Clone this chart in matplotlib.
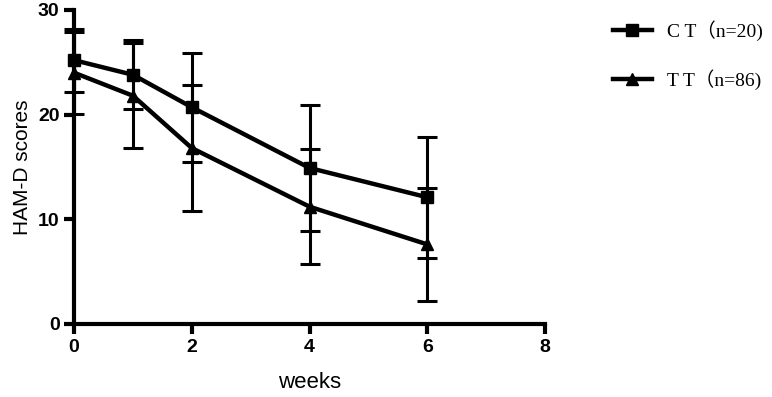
import numpy as np
import matplotlib.pyplot as plt
from matplotlib.lines import Line2D

weeks = [0, 1, 2, 4, 6]
ct_mean = [25.2, 23.8, 20.7, 14.9, 12.1]
ct_sd = [3.0, 3.3, 5.2, 6.0, 5.8]
tt_mean = [24.0, 21.8, 16.8, 11.2, 7.6]
tt_sd = [3.9, 5.0, 6.0, 5.5, 5.4]
labels = ['C T（n=20)', 'T T（n=86)']

plt.rcParams['font.family'] = ['Liberation Sans', 'DejaVu Sans']

fig = plt.figure(figsize=(7.72, 3.97), dpi=100)
ax = fig.add_axes([0.096, 0.184, 0.61, 0.791])

for m, sd, mk in [(ct_mean, ct_sd, 's'), (tt_mean, tt_sd, '^')]:
    parts = ax.errorbar(weeks, m, yerr=sd, color='black', lw=3.2, marker=mk,
                        ms=9, elinewidth=2.2, capsize=7, capthick=2.2)
    for c in parts.get_children():
        c.set_clip_on(False)

ax.set_xlim(0, 8)
ax.set_ylim(0, 30)
ax.set_xticks([0, 2, 4, 6, 8])
ax.set_yticks([0, 10, 20, 30])
for side in ['top', 'right']:
    ax.spines[side].set_visible(False)
for side in ['left', 'bottom']:
    ax.spines[side].set_linewidth(3)
ax.tick_params(width=3, length=7, labelsize=14)
for t in ax.get_xticklabels() + ax.get_yticklabels():
    t.set_fontweight('bold')
ax.set_xlabel('weeks', fontsize=16, labelpad=12)
ax.set_ylabel('HAM-D scores', fontsize=15, labelpad=4)

handles = [Line2D([], [], color='black', lw=3.2, marker='s', ms=9),
           Line2D([], [], color='black', lw=3.2, marker='^', ms=9)]
fig.legend(handles, labels, loc='upper left', bbox_to_anchor=(0.794, 0.948),
           frameon=False, borderaxespad=0, borderpad=0,
           prop={'family': ['Liberation Serif', 'Noto Sans CJK SC'], 'size': 14},
           handlelength=2.0, labelspacing=1.45, handletextpad=0.8)

fig.savefig('out.png', dpi=100)
